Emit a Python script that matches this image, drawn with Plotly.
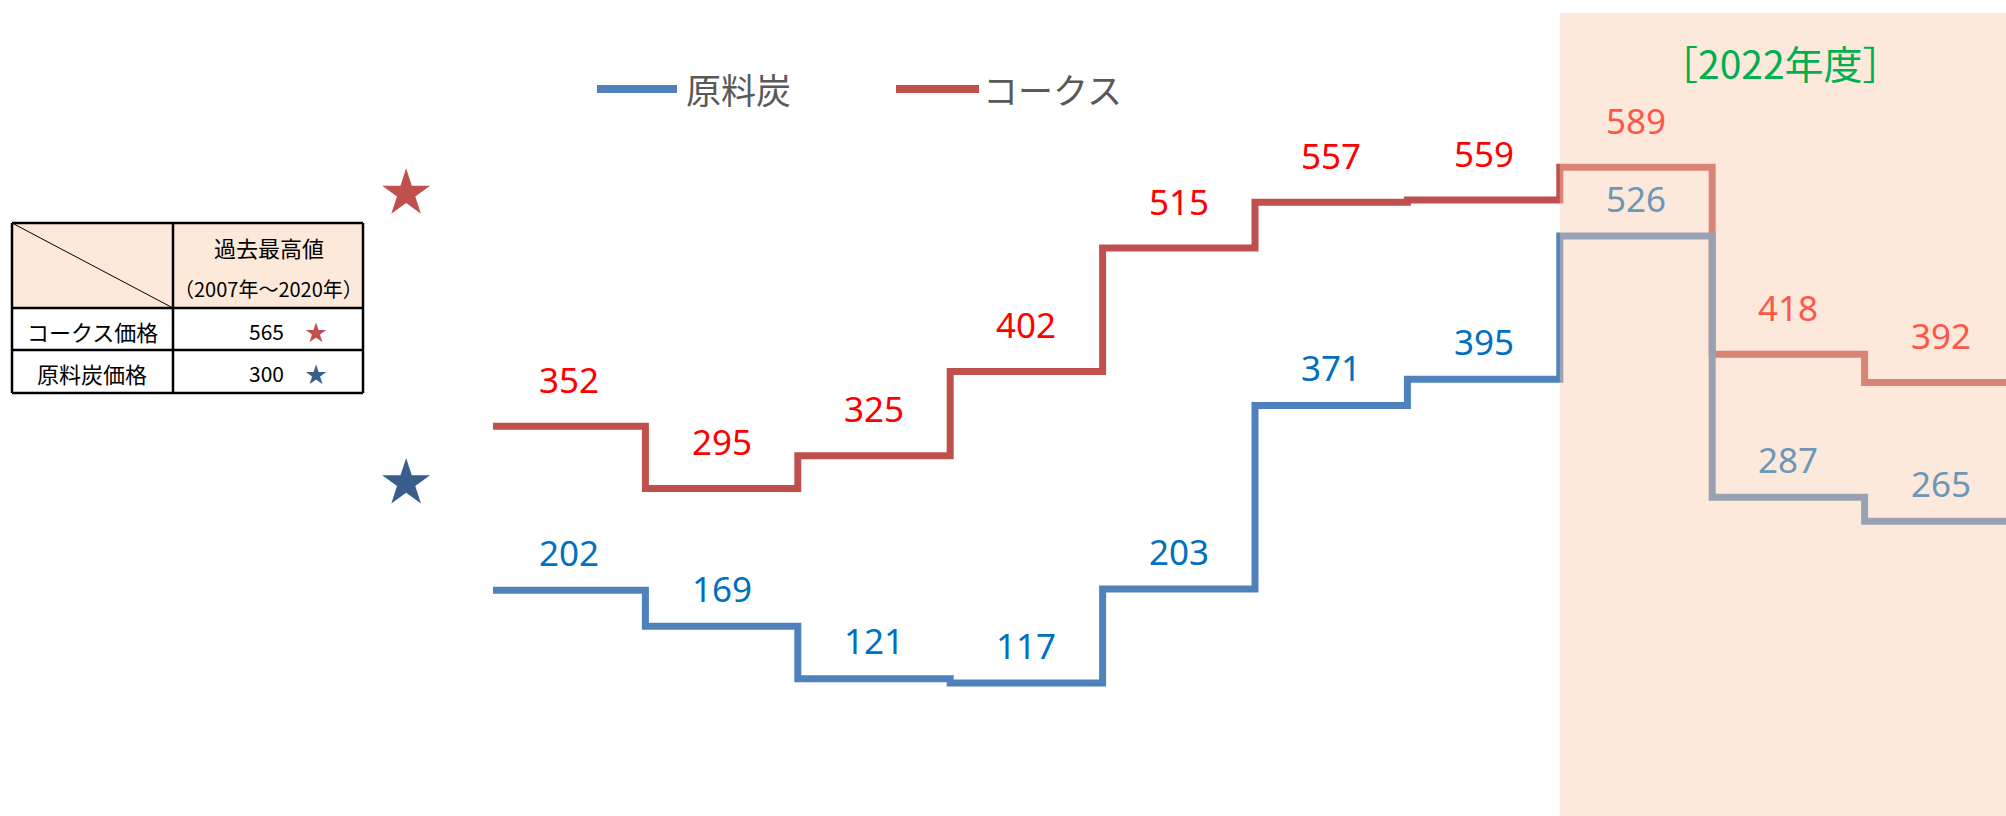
import plotly.graph_objects as go

# ---------------- data ----------------
period_index = list(range(10))
coke = [352, 295, 325, 402, 515, 557, 559, 589, 418, 392]
coal = [202, 169, 121, 117, 203, 371, 395, 526, 287, 265]
coal_name = "原料炭"
coke_name = "コークス"
record_coke = 565
record_coal = 300
table_header = ["過去最高値", "（2007年～2020年）"]
table_row_names = ["コークス価格", "原料炭価格"]
table_row_values = [565, 300]
shade_label = "［2022年度］"
shade_start = 7          # first period of the shaded block

# ---------------- style / layout ----------------
W, H = 2006, 816
X0_PX, STEP_PX = 493, 152.4        # pixel of period 0 start, pixels per period
Y0_PX, Y_SCALE = 811, 1.093        # pixel of value 0, pixels per unit
COKE_LINE, COAL_LINE = "#C0504D", "#4F81BD"
COKE_TXT, COAL_TXT = "#FF0000", "#0070C0"
OVERLAY, OVERLAY_A = (250, 203, 172), 0.43
JP = "Noto Sans CJK JP"
NUM = "Noto Sans"


def blend(hexcol):
    h = hexcol.lstrip("#")
    c = [int(h[i:i + 2], 16) for i in (0, 2, 4)]
    o = [round(ci * (1 - OVERLAY_A) + oi * OVERLAY_A) for ci, oi in zip(c, OVERLAY)]
    return "rgb(%d,%d,%d)" % tuple(o)


def px(x):
    return x / W


def py(y):
    return 1 - y / H


def paper_text(x, y, text, size, color, family=JP, xanchor="center"):
    return dict(x=px(x), y=py(y), xref="paper", yref="paper", text=text,
                showarrow=False, xanchor=xanchor, yanchor="middle",
                font=dict(family=family, size=size, color=color))


fig = go.Figure()

xs = period_index + [period_index[-1] + 1]
for vals, col, name in [(coke, COKE_LINE, coke_name), (coal, COAL_LINE, coal_name)]:
    fig.add_trace(go.Scatter(
        x=xs, y=vals + [vals[-1]], mode="lines", line_shape="hv",
        line=dict(color=col, width=7), name=name, showlegend=False,
        hoverinfo="skip"))

# record stars
fig.add_trace(go.Scatter(
    x=[-0.57, -0.57], y=[record_coke, record_coal], mode="markers",
    marker=dict(symbol="star", size=36, color=[COKE_LINE, "#3A5E8C"], line=dict(width=0)),
    showlegend=False, hoverinfo="skip"))

annotations = []
shapes = []

# data labels
for vals, col, shift in [(coke, COKE_TXT, 47), (coal, COAL_TXT, 38)]:
    for i, v in zip(period_index, vals):
        c = blend(col) if i >= shade_start else col
        annotations.append(dict(
            x=i + 0.5, y=v, xref="x", yref="y", text=str(v), showarrow=False,
            xanchor="center", yanchor="middle",
            yshift=shift, font=dict(family=NUM, size=35, color=c)))

# shaded block (drawn over the lines, semi transparent)
shapes.append(dict(
    type="rect", xref="x", yref="paper", x0=shade_start, x1=12, y0=0, y1=py(13),
    fillcolor="rgba(%d,%d,%d,%.2f)" % (OVERLAY + (OVERLAY_A,)), line=dict(width=0),
    layer="above"))
annotations.append(paper_text(1780, 62, shade_label, 39, "#00B050"))

# manual legend
for (x0, x1, col, name, tx) in [(597, 677, COAL_LINE, coal_name, 684),
                                 (896, 979, COKE_LINE, coke_name, 981)]:
    shapes.append(dict(type="line", xref="paper", yref="paper",
                       x0=px(x0), x1=px(x1), y0=py(89), y1=py(89),
                       line=dict(color=col, width=8)))
    annotations.append(paper_text(tx, 88, name, 35, "#595959", xanchor="left"))

# table
TL, TC, TR = 12, 173, 363
TT, TH, TM, TB = 223, 308, 350, 393
shapes.append(dict(type="rect", xref="paper", yref="paper",
                   x0=px(TL), x1=px(TR), y0=py(TH), y1=py(TT),
                   fillcolor="#FDE9D9", line=dict(width=0), layer="above"))
shapes.append(dict(type="line", xref="paper", yref="paper",
                   x0=px(TL), x1=px(TC), y0=py(TT), y1=py(TH),
                   line=dict(color="#000000", width=1)))
for y in (TT, TH, TM, TB):
    shapes.append(dict(type="line", xref="paper", yref="paper",
                       x0=px(TL), x1=px(TR), y0=py(y), y1=py(y),
                       line=dict(color="#000000", width=2.5)))
for x in (TL, TC, TR):
    shapes.append(dict(type="line", xref="paper", yref="paper",
                       x0=px(x), x1=px(x), y0=py(TT), y1=py(TB),
                       line=dict(color="#000000", width=2.5)))

annotations.append(paper_text(269, 247, table_header[0], 22, "#000000"))
annotations.append(paper_text(268, 288, table_header[1], 20, "#000000"))
star_cols = [COKE_LINE, "#3A5E8C"]
for k, (nm, val) in enumerate(zip(table_row_names, table_row_values)):
    yc = [331, 373][k]
    annotations.append(paper_text(92, yc, nm, 22, "#000000"))
    annotations.append(paper_text(286, yc, str(val), 21, "#000000", xanchor="right"))
    annotations.append(paper_text(316, yc - 1, "★", 22, star_cols[k]))

fig.update_layout(
    width=W, height=H, margin=dict(l=0, r=0, t=0, b=0),
    paper_bgcolor="white", plot_bgcolor="white",
    xaxis=dict(range=[-X0_PX / STEP_PX, (W - X0_PX) / STEP_PX], visible=False,
               fixedrange=True),
    yaxis=dict(range=[(Y0_PX - H) / Y_SCALE, Y0_PX / Y_SCALE], visible=False,
               fixedrange=True),
    shapes=shapes, annotations=annotations, showlegend=False,
    font=dict(family=JP),
)

fig.write_html("out.html", config={"displayModeBar": False},
               post_script="document.body.style.margin='0';document.body.style.overflow='hidden';")
